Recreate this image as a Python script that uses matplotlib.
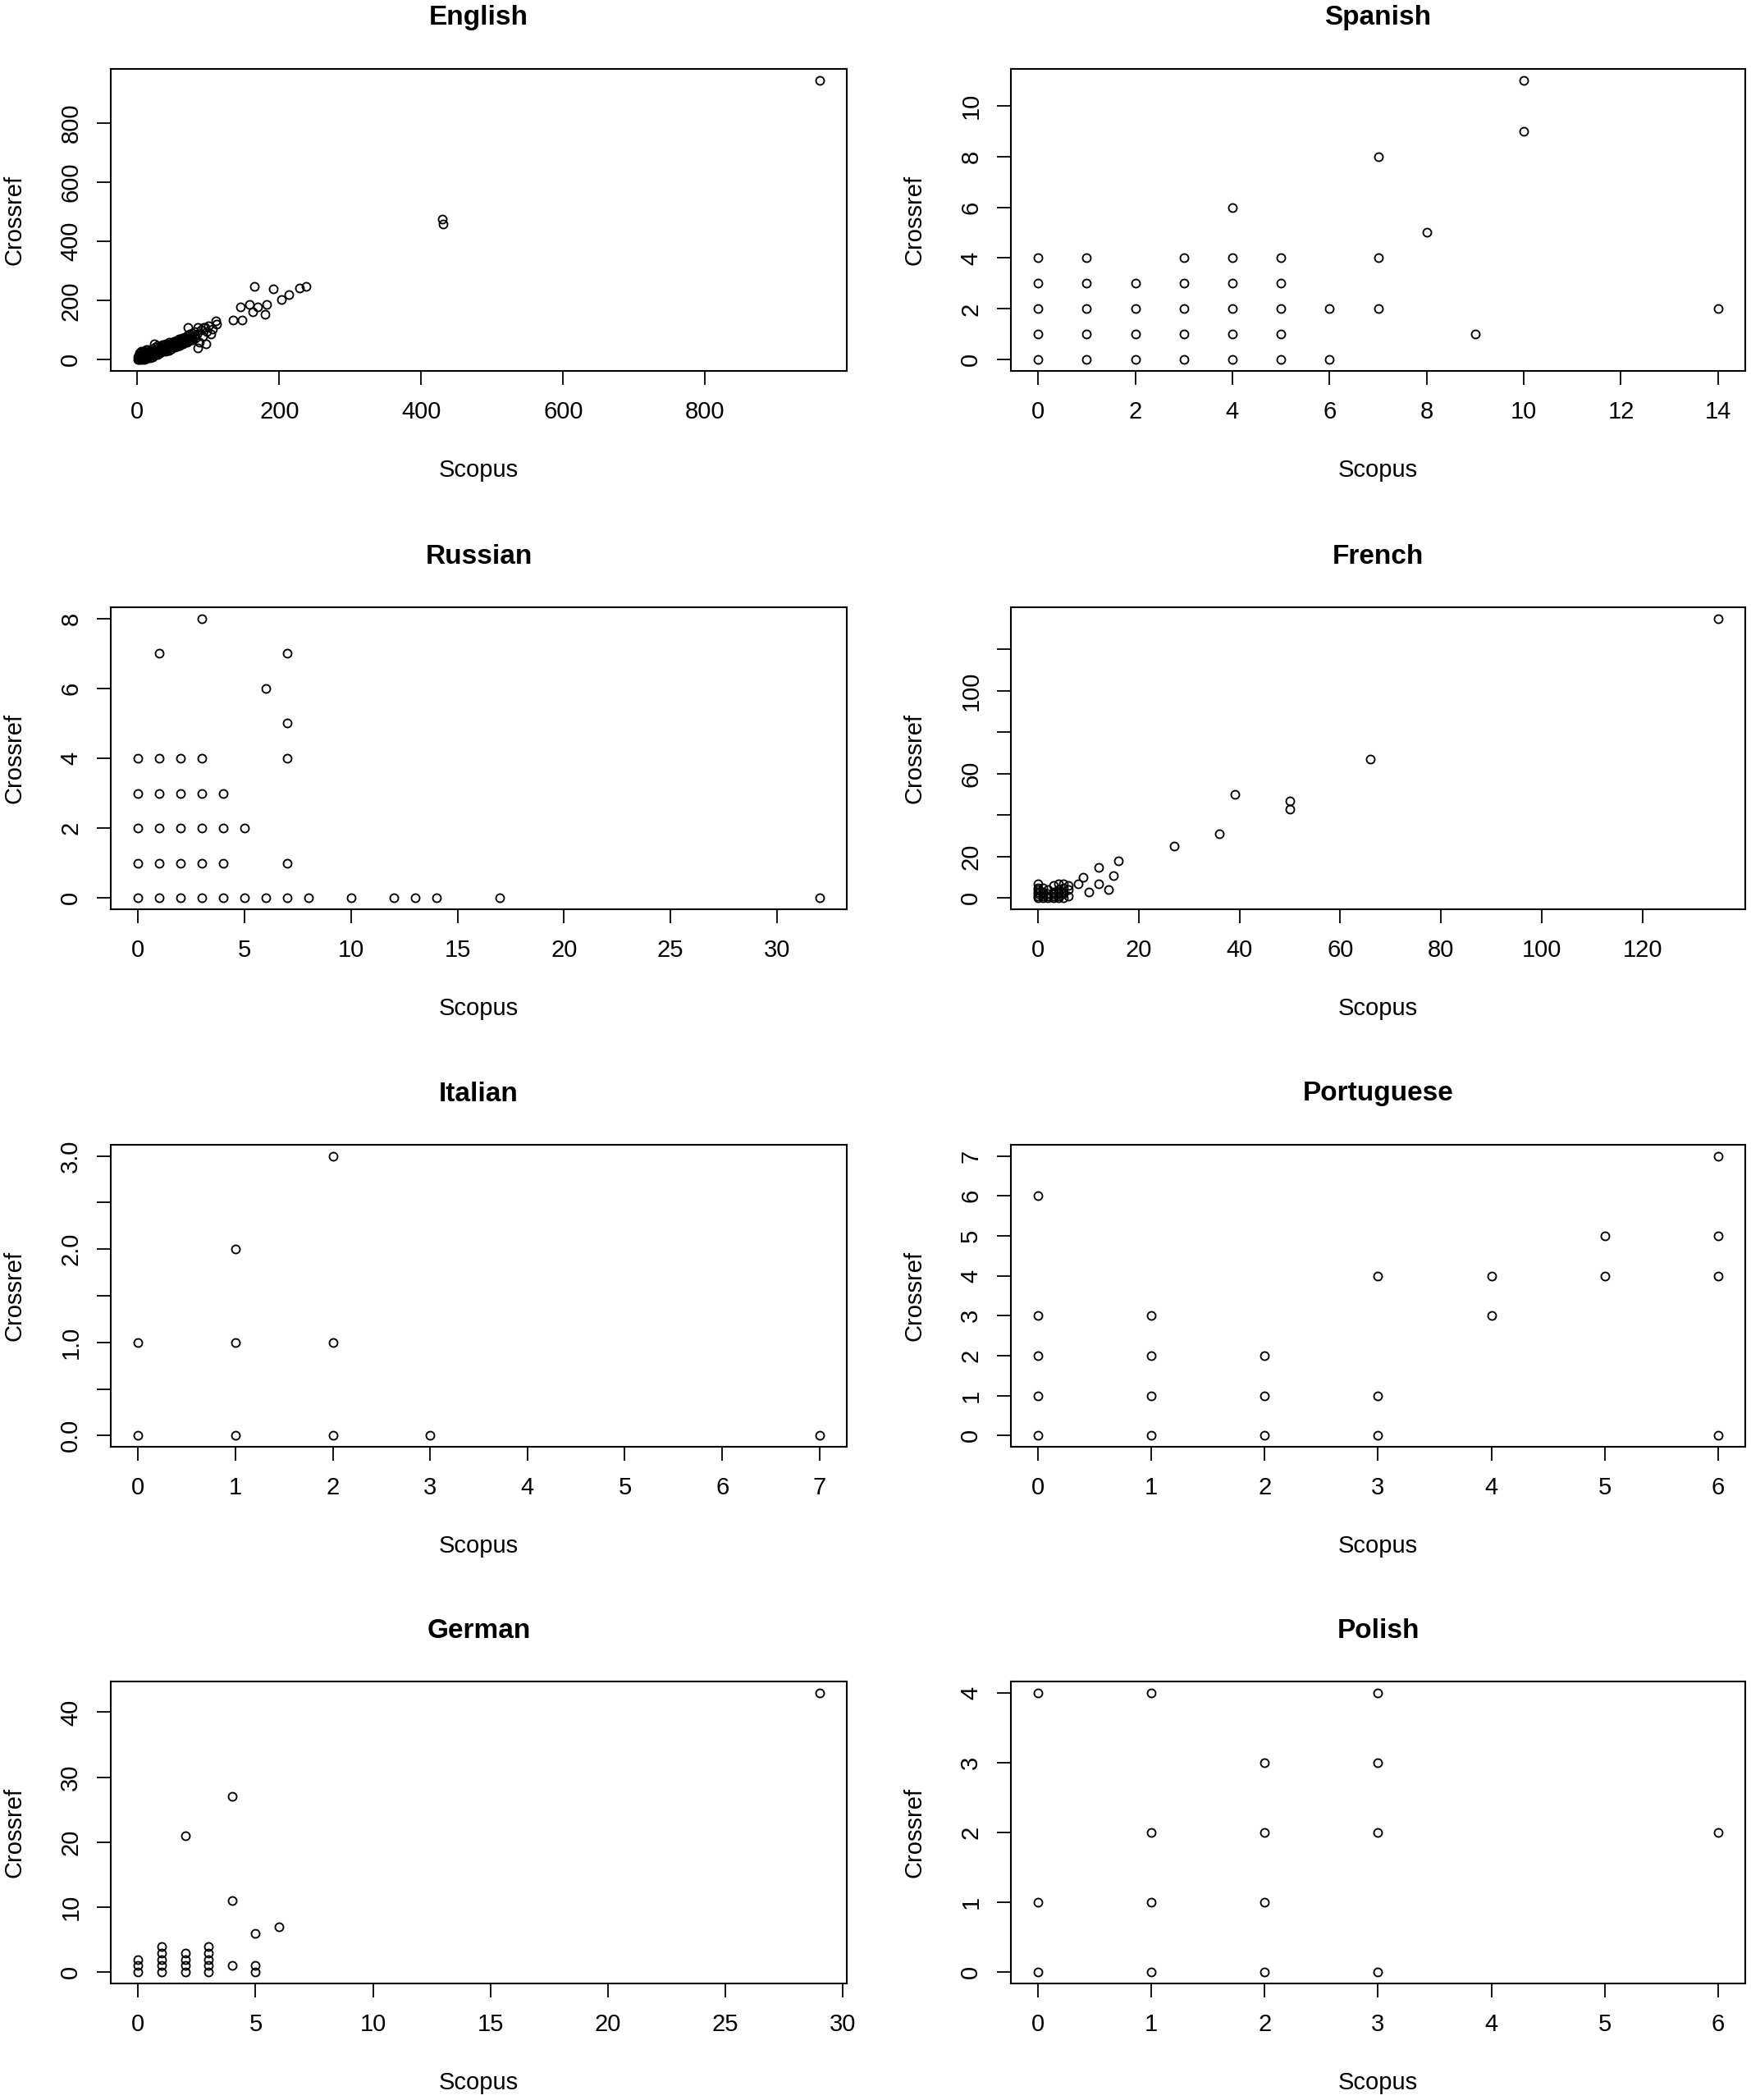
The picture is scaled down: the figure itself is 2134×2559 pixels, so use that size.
import matplotlib
matplotlib.use("Agg")
import matplotlib.pyplot as plt

plt.rcParams['font.family'] = ['Liberation Sans', 'DejaVu Sans']

# ---- data (Scopus vs Crossref citation counts) ----
english_scopus = [1, 1, 2, 2, 3, 3, 4, 4, 5, 5, 6, 6, 7, 7, 8, 8, 9, 9, 10, 10,
                  11, 11, 12, 12, 13, 13, 14, 15, 15, 16, 17, 18, 18, 19, 20, 20, 21, 22, 22, 23,
                  24, 25, 25, 26, 27, 28, 28, 29, 30, 30, 31, 32, 33, 34, 35, 35, 36, 37, 38, 39,
                  40, 40, 41, 42, 43, 44, 45, 45, 46, 47, 48, 49, 50, 50, 51, 52, 53, 54, 55, 55,
                  56, 57, 58, 59, 60, 60, 61, 62, 63, 64, 65, 66, 67, 68, 69, 70, 70, 71, 72, 73,
                  74, 75, 76, 77, 78, 79, 80, 82, 84, 85, 88, 90, 92, 95, 98, 100,
                  24, 71, 85, 93, 97, 104, 106, 111, 112, 135, 148, 145, 158, 163, 165, 170, 180, 182,
                  192, 203, 213, 229, 238, 429, 431, 961]
english_crossref = [2, 8, 0, 15, 5, 22, 1, 10, 3, 28, 6, 18, 0, 12, 4, 25, 8, 30, 2, 16,
                    10, 22, 5, 33, 14, 26, 8, 20, 35, 12, 28, 6, 18, 32, 14, 24, 38, 10, 20, 30,
                    16, 26, 42, 20, 34, 18, 48, 28, 22, 40, 32, 24, 44, 30, 38, 52, 28, 46, 34, 40,
                    30, 55, 44, 36, 50, 40, 58, 32, 46, 52, 38, 60, 44, 54, 48, 62, 42, 56, 50, 66,
                    46, 60, 52, 70, 56, 48, 64, 58, 72, 54, 66, 60, 76, 62, 70, 58, 82, 66, 74, 64,
                    86, 70, 78, 90, 68, 80, 96, 74, 88, 110, 60, 100, 80, 108, 95, 115,
                    54, 110, 40, 110, 54, 86, 105, 131, 120, 135, 135, 178, 186, 161, 248, 179, 153, 186,
                    240, 203, 219, 243, 248, 475, 458, 945]

spanish_scopus = [0, 0, 0, 0, 0, 1, 1, 1, 1, 1, 2, 2, 2, 2, 3, 3, 3, 3, 3,
                  4, 4, 4, 4, 4, 4, 5, 5, 5, 5, 5, 6, 6, 7, 7, 7, 8, 9, 10, 10, 14]
spanish_crossref = [0, 1, 2, 3, 4, 0, 1, 2, 3, 4, 0, 1, 2, 3, 0, 1, 2, 3, 4,
                    0, 1, 2, 3, 4, 6, 0, 1, 2, 3, 4, 0, 2, 2, 4, 8, 5, 1, 9, 11, 2]

russian_scopus = [0, 0, 0, 0, 0, 1, 1, 1, 1, 1, 1, 2, 2, 2, 2, 2, 3, 3, 3, 3, 3, 3,
                  4, 4, 4, 4, 5, 5, 6, 6, 7, 7, 7, 7, 7, 8, 10, 12, 13, 14, 17, 32]
russian_crossref = [0, 1, 2, 3, 4, 0, 1, 2, 3, 4, 7, 0, 1, 2, 3, 4, 0, 1, 2, 3, 4, 8,
                    0, 1, 2, 3, 0, 2, 0, 6, 0, 1, 4, 5, 7, 0, 0, 0, 0, 0, 0, 0]

french_scopus = [0, 0, 0, 0, 0, 0, 0, 1, 1, 1, 1, 1, 2, 2, 2, 2, 3, 3, 3, 3, 3,
                 4, 4, 4, 4, 4, 4, 5, 5, 5, 5, 5, 6, 6, 6,
                 8, 9, 10, 12, 12, 14, 15, 16, 27, 36, 39, 50, 50, 66, 135]
french_crossref = [0, 1, 2, 3, 4, 5, 7, 0, 1, 2, 3, 5, 0, 1, 2, 4, 0, 1, 2, 3, 6,
                   0, 1, 2, 3, 4, 7, 0, 2, 3, 5, 7, 1, 4, 6,
                   7, 10, 3, 15, 7, 4, 11, 18, 25, 31, 50, 47, 43, 67, 135]

italian_scopus = [0, 0, 1, 1, 1, 2, 2, 2, 3, 7]
italian_crossref = [0, 1, 0, 1, 2, 0, 1, 3, 0, 0]

portuguese_scopus = [0, 0, 0, 0, 0, 1, 1, 1, 1, 2, 2, 2, 3, 3, 3, 4, 4, 5, 5, 6, 6, 6, 6]
portuguese_crossref = [0, 1, 2, 3, 6, 0, 1, 2, 3, 0, 1, 2, 0, 1, 4, 3, 4, 4, 5, 0, 4, 5, 7]

german_scopus = [0, 0, 0, 1, 1, 1, 1, 1, 2, 2, 2, 2, 2, 3, 3, 3, 3, 3, 4, 4, 4, 5, 5, 5, 6, 29]
german_crossref = [0, 1, 2, 0, 1, 2, 3, 4, 0, 1, 2, 3, 21, 0, 1, 2, 3, 4, 1, 11, 27, 0, 1, 6, 7, 43]

polish_scopus = [0, 0, 0, 1, 1, 1, 1, 2, 2, 2, 2, 3, 3, 3, 3, 6]
polish_crossref = [0, 1, 4, 0, 1, 2, 4, 0, 1, 2, 3, 0, 2, 3, 4, 2]

titles = ['English', 'Spanish', 'Russian', 'French', 'Italian', 'Portuguese', 'German', 'Polish']
xs_all = [english_scopus, spanish_scopus, russian_scopus, french_scopus,
          italian_scopus, portuguese_scopus, german_scopus, polish_scopus]
ys_all = [english_crossref, spanish_crossref, russian_crossref, french_crossref,
          italian_crossref, portuguese_crossref, german_crossref, polish_crossref]

# tick positions (R's pretty()) and the labels R managed to draw
x_ticks = [[0, 200, 400, 600, 800], list(range(0, 15, 2)), list(range(0, 31, 5)),
           list(range(0, 121, 20)), list(range(0, 8)), list(range(0, 7)),
           list(range(0, 31, 5)), list(range(0, 7))]
y_ticks = [[0, 200, 400, 600, 800], list(range(0, 11, 2)), list(range(0, 9, 2)),
           list(range(0, 121, 20)), [0, 0.5, 1, 1.5, 2, 2.5, 3], list(range(0, 8)),
           list(range(0, 41, 10)), list(range(0, 5))]
y_labels = [None, None, None,
            ['0', '20', '', '60', '', '100', ''],
            ['0.0', '', '1.0', '', '2.0', '', '3.0'],
            None, None, None]

W, H = 2134, 2559
fig = plt.figure(figsize=(W / 100, H / 100), dpi=100)

col_left = [135, 1232]
col_width = [897, 895]
row_top = [84, 740, 1395, 2049]
box_h = 368


def r_range(vals):
    # R's default axis range: data range padded by 4% each side
    lo, hi = min(vals), max(vals)
    pad = (hi - lo) * 0.04
    return lo - pad, hi + pad


for i, title in enumerate(titles):
    row, col = divmod(i, 2)
    ax = fig.add_axes([col_left[col] / W, 1 - (row_top[row] + box_h) / H,
                       col_width[col] / W, box_h / H])
    xs, ys = xs_all[i], ys_all[i]
    ax.plot(xs, ys, 'o', mfc='none', mec='black', ms=7.2, mew=1.35, ls='none')
    ax.set_xlim(r_range(xs))
    ax.set_ylim(r_range(ys))
    ax.set_xticks(x_ticks[i])
    ax.set_xticklabels([str(v) for v in x_ticks[i]])
    ax.set_yticks(y_ticks[i])
    ax.set_yticklabels(y_labels[i] if y_labels[i] else [str(v) for v in y_ticks[i]],
                       rotation=90, va='center')
    ax.tick_params(axis='x', length=12, width=1.3, pad=14, labelsize=21, direction='out')
    ax.tick_params(axis='y', length=12, width=1.3, pad=13, labelsize=21, direction='out')
    for sp in ax.spines.values():
        sp.set_linewidth(1.5)
    ax.text(0.5, 1 + 62 / box_h, title, transform=ax.transAxes, ha='center', va='center',
            fontsize=24, fontweight='bold')
    ax.text(0.5, -121 / box_h, 'Scopus', transform=ax.transAxes, ha='center', va='center',
            fontsize=21)
    ax.text(-117 / col_width[col], 0.5, 'Crossref', transform=ax.transAxes, ha='center',
            va='center', rotation=90, fontsize=21)

fig.savefig('out.png', dpi=100)
